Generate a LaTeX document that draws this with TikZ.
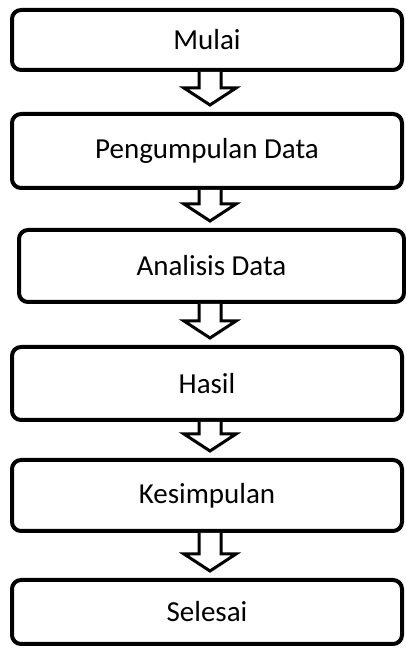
\documentclass[tikz,border=0pt]{standalone}
\usepackage{fontspec}
\setmainfont{Carlito}
\usetikzlibrary{positioning, calc}

\newcommand{\panah}[2]{%
  \draw[panah] let \p1=(#1.south -| mulai.south), \p2=(#2.north) in
    (\x1-8pt,\y1) -- (\x1-8pt,\y2+24pt) -- (\x1-23pt,\y2+24pt) -- (\x1+3pt,\y2+7pt)
    -- (\x1+29pt,\y2+24pt) -- (\x1+14pt,\y2+24pt) -- (\x1+14pt,\y1);}

\begin{document}
\begin{tikzpicture}[x=1pt, y=1pt,
    proses/.style={draw, rounded corners=9pt, line width=4pt, minimum width=390pt, inner sep=0pt, font=\fontsize{29}{35}\selectfont},
    panah/.style={fill=white, line width=3pt}]
\useasboundingbox (0,0) rectangle (406,648);
\node (mulai) [proses, minimum height=60pt] at (207,608) {Mulai};
\node (kumpul) [proses, minimum height=74pt, below=40pt of mulai] {Pengumpulan Data};
\node (analisis) [proses, minimum height=72pt, minimum width=385pt, below=38pt of kumpul, xshift=4.5pt] {Analisis Data};
\node (hasil) [proses, minimum height=73pt, below=41pt of analisis, xshift=-4.5pt] {Hasil};
\node (simpulan) [proses, minimum height=71pt, below=36pt of hasil] {Kesimpulan};
\node (selesai) [proses, minimum height=64pt, below=45pt of simpulan] {Selesai};

\panah{mulai}{kumpul}
\panah{kumpul}{analisis}
\panah{analisis}{hasil}
\panah{hasil}{simpulan}
\panah{simpulan}{selesai}
\end{tikzpicture}
\end{document}
